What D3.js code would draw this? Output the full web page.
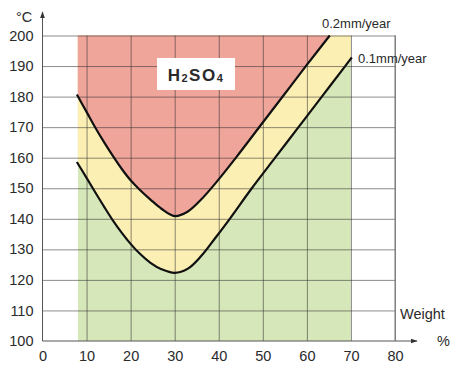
<!DOCTYPE html>
<html>
<head>
<meta charset="utf-8">
<script src="https://cdn.jsdelivr.net/npm/d3@7"></script>
<style>
  body { margin: 0; background: #fff; }
  text { font-family: "Liberation Sans", Arial, sans-serif; fill: #2a2a2a; }
</style>
</head>
<body>
<div id="chart"></div>
<script>
// data
const xTicks = [0, 10, 20, 30, 40, 50, 60, 70, 80];
const yTicks = [100, 110, 120, 130, 140, 150, 160, 170, 180, 190, 200];
const zoneRange = [8, 70]; // weight % where the coloured zones are drawn

// 0.2 mm/year iso-corrosion line [weight %, °C]
const curve02 = [
  [7.8, 180.7], [10, 175], [12, 169.8], [14, 165], [16, 160.5], [18, 156.3],
  [20, 152.6], [22, 149.6], [24.5, 146.3], [27, 143.3], [30, 140.9], [33, 142.4],
  [36, 146.3], [39, 151.2], [44, 160.2], [49.3, 170.2], [54.6, 180.2],
  [59.9, 190.2], [65.2, 200]
];
// 0.1 mm/year iso-corrosion line
const curve01 = [
  [7.8, 158.6], [10, 153.4], [12, 148.6], [14, 143.9], [16, 139.4], [18, 135.4],
  [20, 131.8], [22, 128.7], [24.5, 125.6], [27, 123.5], [30, 122.3], [33, 123.7],
  [36, 127.8], [39, 133.3], [42.5, 140], [47.5, 150], [52.8, 160], [58.1, 170],
  [63.4, 180], [68.7, 190], [70.2, 192.8]
];

const width = 450, height = 369;
const svg = d3.select("#chart").append("svg")
  .attr("width", width).attr("height", height);

const x = d3.scaleLinear().domain([0, 80]).range([42.5, 395]);
const y = d3.scaleLinear().domain([100, 200]).range([341, 35.5]);

// clip to the coloured part of the plot
svg.append("clipPath").attr("id", "zone")
  .append("rect")
  .attr("x", x(zoneRange[0])).attr("y", y(200))
  .attr("width", x(zoneRange[1]) - x(zoneRange[0]))
  .attr("height", y(100) - y(200));

const zones = svg.append("g").attr("clip-path", "url(#zone)");
const smooth = d3.curveCatmullRom.alpha(0.5);

// green below 0.1 line (whole zone first)
zones.append("rect")
  .attr("x", x(zoneRange[0])).attr("y", y(200))
  .attr("width", x(zoneRange[1]) - x(zoneRange[0]))
  .attr("height", y(100) - y(200))
  .attr("fill", "#d6e7b9");

// yellow above 0.1 line
zones.append("path")
  .datum(curve01)
  .attr("fill", "#fcefb4")
  .attr("d", d3.area().curve(smooth)
    .x(d => x(d[0])).y0(y(200) - 5).y1(d => y(d[1])));

// red above 0.2 line
zones.append("path")
  .datum(curve02)
  .attr("fill", "#f0a59b")
  .attr("d", d3.area().curve(smooth)
    .x(d => x(d[0])).y0(y(200) - 5).y1(d => y(d[1])));

// grid
svg.append("g")
  .attr("transform", `translate(0,${y(100)})`)
  .call(d3.axisBottom(x).tickValues(xTicks.slice(1)).tickSize(-(y(100) - y(200))).tickFormat(""))
  .call(g => g.select(".domain").remove())
  .selectAll("line").attr("stroke", "#2e2e2e").attr("stroke-opacity", 0.55);

svg.append("g")
  .attr("transform", `translate(${x(0)},0)`)
  .call(d3.axisLeft(y).tickValues(yTicks.slice(1)).tickSize(-(x(80) - x(0))).tickFormat(""))
  .call(g => g.select(".domain").remove())
  .selectAll("line").attr("stroke", "#2e2e2e").attr("stroke-opacity", 0.55);

// curves
const line = d3.line().curve(smooth).x(d => x(d[0])).y(d => y(d[1]));
[curve02, curve01].forEach(c => {
  svg.append("path").datum(c)
    .attr("fill", "none").attr("stroke", "#111")
    .attr("stroke-width", 2.2)
    .attr("d", line);
});

// axes with arrows
svg.append("defs").append("marker")
  .attr("id", "arrow").attr("viewBox", "0 0 10 10")
  .attr("refX", 9).attr("refY", 5)
  .attr("markerWidth", 7).attr("markerHeight", 7)
  .attr("orient", "auto")
  .append("path").attr("d", "M0,1.5L10,5L0,8.5Z").attr("fill", "#333");

svg.append("line")
  .attr("x1", x(0)).attr("y1", y(100)).attr("x2", x(0)).attr("y2", 12)
  .attr("stroke", "#555").attr("stroke-width", 1)
  .attr("marker-end", "url(#arrow)");
svg.append("line")
  .attr("x1", x(0)).attr("y1", y(100)).attr("x2", 417).attr("y2", y(100))
  .attr("stroke", "#555").attr("stroke-width", 1)
  .attr("marker-end", "url(#arrow)");
svg.append("line")
  .attr("x1", x(80)).attr("y1", y(100)).attr("x2", x(80)).attr("y2", y(200))
  .attr("stroke", "#777").attr("stroke-width", 1);

// tick labels
svg.append("g")
  .attr("transform", `translate(${x(0)},0)`)
  .call(d3.axisLeft(y).tickValues(yTicks).tickSize(0).tickPadding(9))
  .call(g => g.select(".domain").remove())
  .selectAll("text")
  .style("font-size", "14.5px").attr("fill", "#2a2a2a");

svg.append("g")
  .attr("transform", `translate(0,${y(100)})`)
  .call(d3.axisBottom(x).tickValues(xTicks).tickSize(0).tickPadding(10))
  .call(g => g.select(".domain").remove())
  .selectAll("text")
  .style("font-size", "14.5px").attr("fill", "#2a2a2a");

// labels
svg.append("text").attr("x", 16).attr("y", 22)
  .style("font-size", "14.5px").text("°C");
svg.append("text").attr("x", 400).attr("y", 319)
  .style("font-size", "14.5px").text("Weight");
svg.append("text").attr("x", 437).attr("y", 346)
  .style("font-size", "14.5px").text("%");

svg.append("text").attr("x", 322).attr("y", 28)
  .style("font-size", "13px").text("0.2mm/year");
svg.append("text").attr("x", 358).attr("y", 63)
  .style("font-size", "13px").text("0.1mm/year");

// H2SO4 box
svg.append("rect")
  .attr("x", 157).attr("y", 58).attr("width", 78).attr("height", 32)
  .attr("fill", "#fff");
const h = svg.append("text").attr("x", 196).attr("y", 81)
  .attr("text-anchor", "middle")
  .style("font-size", "17px").style("font-weight", "bold")
  .style("letter-spacing", "1.5px");
h.append("tspan").text("H");
h.append("tspan").style("font-size", "11px").attr("dy", 1).text("2");
h.append("tspan").attr("dy", -1).text("SO");
h.append("tspan").style("font-size", "11px").attr("dy", 1).text("4");
</script>
</body>
</html>
